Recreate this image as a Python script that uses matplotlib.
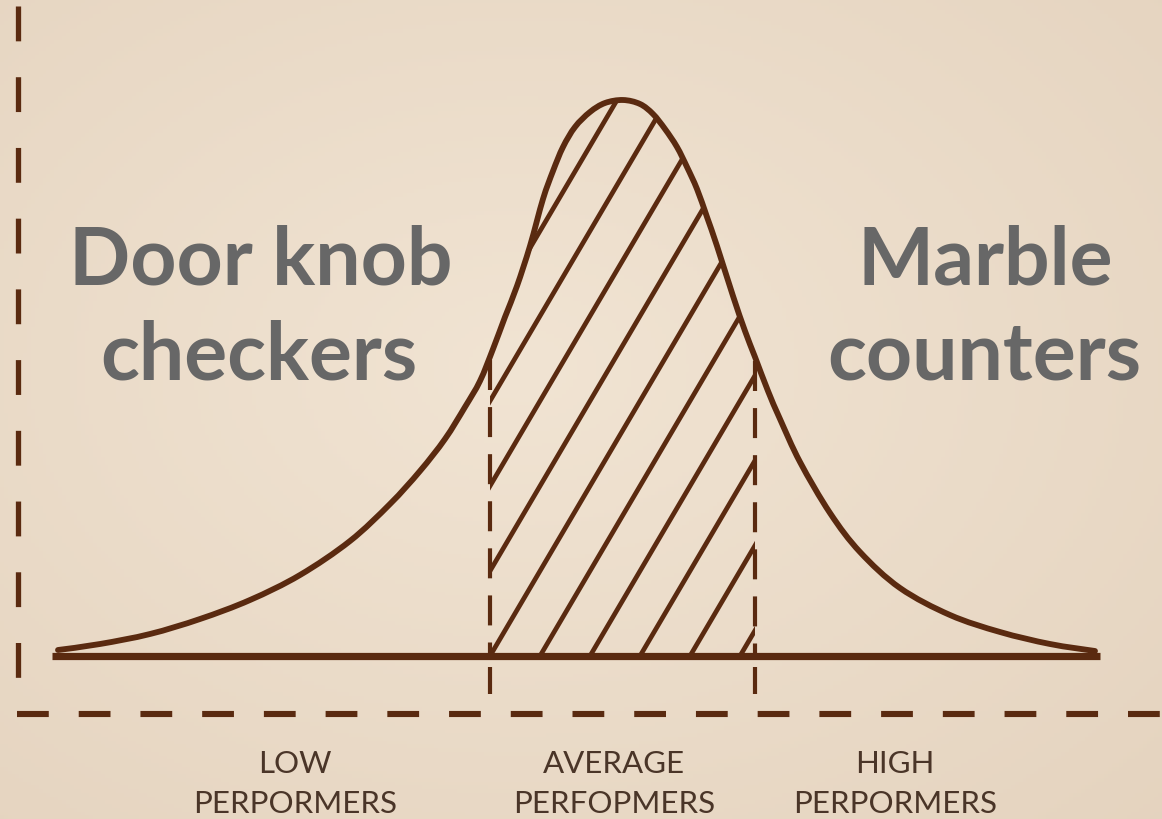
import numpy as np
import matplotlib
matplotlib.use("Agg")
import matplotlib.pyplot as plt
from matplotlib.patches import Polygon, PathPatch
from matplotlib.path import Path

# ---- data (pixel-like units, y grows downward) ----
curve_x = [58, 100, 150, 200, 250, 300, 350, 390, 420, 445, 465, 480, 493, 505,
           517, 530, 543, 553, 563, 575, 590, 605, 623, 640, 653, 665, 677, 687,
           697, 707, 717, 733, 745, 755, 768, 780, 800, 830, 860, 900, 950, 1000,
           1050, 1095]
curve_y = [651, 645, 635, 620, 601, 576, 542, 505, 472, 440, 408, 382, 350, 318,
           287, 247, 200, 172, 148, 128, 113, 104, 101, 105, 115, 130, 148, 168,
           190, 218, 247, 297, 332, 358, 392, 420, 463, 514, 553, 589, 616, 633,
           645, 652]
baseline_y = 657
baseline_x = [52, 1100]
average_bounds = [490, 755]          # x of the two dashed boundaries
axis_x = 18                          # left dashed axis
axis_y = 715                         # bottom dashed axis

group_labels = [("LOW", "PERPORMERS"), ("AVERAGE", "PERFOPMERS"), ("HIGH", "PERPORMERS")]
group_label_x = [295, 614, 895]
big_left = ["Door knob", "checkers"]
big_right = ["Marble", "counters"]

# ---- style ----
BROWN = "#5a2a10"
GRAY = "#676767"
LABEL = "#4a3528"

fig = plt.figure(figsize=(11.62, 8.2), dpi=100)
ax = fig.add_axes([0, 0, 1, 1])
ax.set_xlim(0, 1162)
ax.set_ylim(820, 0)
ax.axis("off")

# background: soft beige with gentle lighter centre
gx, gy = np.meshgrid(np.linspace(0, 1, 300), np.linspace(0, 1, 220))
d = np.sqrt(((gx - 0.45) / 0.9) ** 2 + ((gy - 0.45) / 0.9) ** 2)
c0 = np.array([241, 228, 211]) / 255.0
c1 = np.array([227, 209, 188]) / 255.0
t = np.clip(d, 0, 1)[..., None]
bg = c0 * (1 - t) + c1 * t
ax.imshow(bg, extent=[0, 1162, 820, 0], aspect="auto", zorder=0)

# hatched average region (clip path from curve between the bounds)
cx = np.array(curve_x, float)
cy = np.array(curve_y, float)
lo, hi = average_bounds
ylo = np.interp(lo, cx, cy)
yhi = np.interp(hi, cx, cy)
mask = (cx > lo) & (cx < hi)
poly_x = [lo, lo] + list(cx[mask]) + [hi, hi]
poly_y = [baseline_y, ylo] + list(cy[mask]) + [yhi, baseline_y]
clip = Polygon(np.column_stack([poly_x, poly_y]), closed=True,
               facecolor="none", edgecolor="none", transform=ax.transData)
ax.add_patch(clip)
slope = 1.7
spacing = 50
for k in range(-12, 7):
    x0 = lo + k * spacing
    x1 = x0 + (baseline_y - 60) / slope
    ln, = ax.plot([x0, x1], [baseline_y, 60], color=BROWN, lw=3.4,
                  solid_capstyle="butt", zorder=2)
    ln.set_clip_path(clip)

# dashed boundaries of the average group (dashes above, one tick below baseline)
for xb, ytop in zip(average_bounds, [ylo, yhi]):
    ax.plot([xb, xb], [ytop + 4, baseline_y], color=BROWN, lw=3.0,
            dashes=(7.2, 4.1), zorder=3)
    ax.plot([xb, xb], [668, 695], color=BROWN, lw=3.0,
            solid_capstyle="butt", zorder=3)

# curve drawn as a smooth Bezier path through the read points
P = np.column_stack([cx, cy])
verts = [P[0]]
codes = [Path.MOVETO]
n = len(P)
for i in range(n - 1):
    p0 = P[i - 1] if i > 0 else P[i]
    p1 = P[i]
    p2 = P[i + 1]
    p3 = P[i + 2] if i + 2 < n else P[i + 1]
    c1 = p1 + (p2 - p0) / 6.0
    c2 = p2 - (p3 - p1) / 6.0
    verts += [c1, c2, p2]
    codes += [Path.CURVE4] * 3
ax.add_patch(PathPatch(Path(verts, codes), facecolor="none", edgecolor=BROWN,
                       lw=4.2, joinstyle="round", capstyle="round", zorder=4))
ax.plot(baseline_x, [baseline_y, baseline_y], color=BROWN, lw=5.2,
        solid_capstyle="butt", zorder=4)

# dashed axes
ax.plot([axis_x, axis_x], [7, 681], color=BROWN, lw=3.8,
        dashes=(6.6, 6.8), zorder=3)
ax.plot([17, 1162], [axis_y, axis_y], color=BROWN, lw=4.4,
        dashes=(5.2, 4.9), zorder=3)

# big captions
big_font = dict(family="Lato", weight="bold", size=58, color=GRAY,
                ha="center", va="baseline", zorder=5)
ax.text(261, 285, big_left[0], **big_font)
ax.text(259, 380, big_left[1], **big_font)
ax.text(985, 285, big_right[0], **big_font)
ax.text(984, 380, big_right[1], **big_font)

# group labels
lab_font = dict(family="Lato", size=22.5, color=LABEL, ha="center",
                va="baseline", zorder=5)
for (l1, l2), xl in zip(group_labels, group_label_x):
    ax.text(xl, 773, l1, **lab_font)
    ax.text(xl, 813, l2, **lab_font)

fig.savefig("out.png", dpi=100)
